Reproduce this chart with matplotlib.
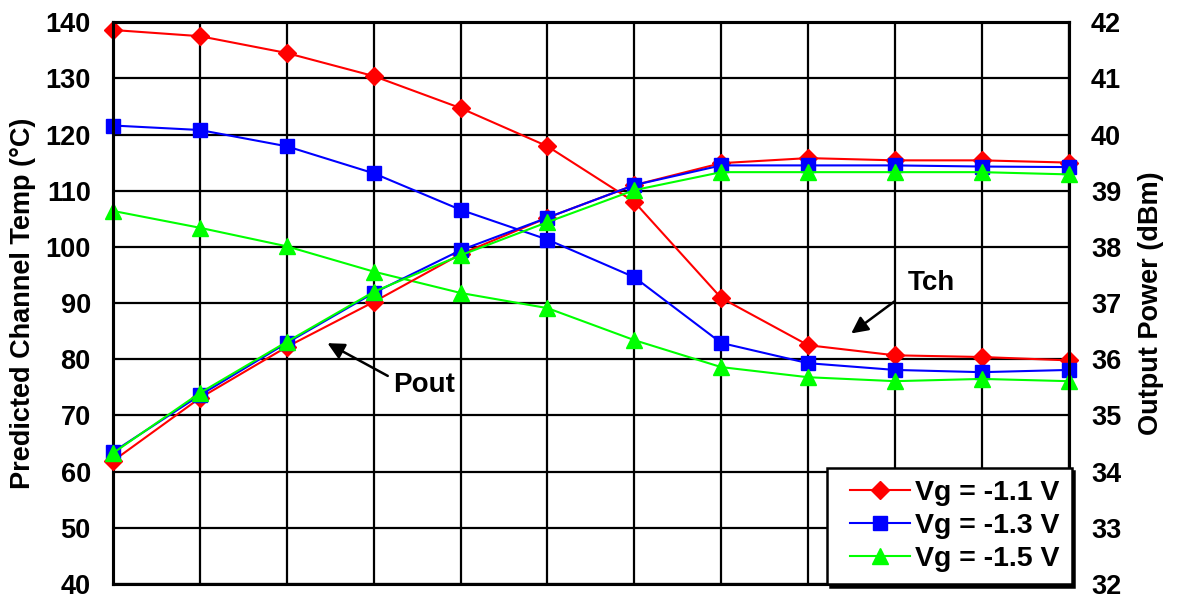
import matplotlib
matplotlib.use("Agg")
import matplotlib.pyplot as plt
from matplotlib.lines import Line2D
from matplotlib.legend_handler import HandlerLine2D

# data (12 operating points, no x labels)
x_idx = list(range(12))

tch_11 = [138.6, 137.5, 134.5, 130.4, 124.7, 117.9, 108.0, 90.9, 82.5, 80.7, 80.4, 79.8]
tch_13 = [121.6, 120.8, 117.9, 113.1, 106.6, 101.3, 94.6, 82.9, 79.3, 78.1, 77.7, 78.1]
tch_15 = [106.4, 103.4, 100.1, 95.6, 91.8, 89.1, 83.4, 78.6, 76.8, 76.1, 76.5, 76.1]

pout_11 = [34.19, 35.31, 36.22, 37.02, 37.87, 38.52, 39.10, 39.49, 39.58, 39.54, 39.54, 39.50]
pout_13 = [34.35, 35.36, 36.29, 37.18, 37.94, 38.52, 39.10, 39.45, 39.45, 39.45, 39.43, 39.42]
pout_15 = [34.33, 35.40, 36.31, 37.20, 37.85, 38.44, 39.01, 39.33, 39.33, 39.33, 39.33, 39.29]

labels = ['Vg = -1.1 V', 'Vg = -1.3 V', 'Vg = -1.5 V']
left_ticks = [40, 50, 60, 70, 80, 90, 100, 110, 120, 130, 140]
right_ticks = [32, 33, 34, 35, 36, 37, 38, 39, 40, 41, 42]

plt.rcParams['font.family'] = ['Liberation Sans', 'DejaVu Sans']
plt.rcParams['font.weight'] = 'bold'

fig, ax1 = plt.subplots(figsize=(11.81, 5.98), dpi=100)
fig.subplots_adjust(left=0.0957, right=0.905, top=0.963, bottom=0.0234)
ax2 = ax1.twinx()

styles = [('#FF0000', 'D', 9), ('#0000FF', 's', 10), ('#00FF00', '^', 11)]
handles = []
for (c, m, ms), t, p, lab in zip(styles, [tch_11, tch_13, tch_15],
                                 [pout_11, pout_13, pout_15], labels):
    h, = ax1.plot(x_idx, t, color=c, marker=m, markersize=ms, lw=1.5,
                  label=lab, clip_on=False, zorder=3)
    ax2.plot(x_idx, p, color=c, marker=m, markersize=ms, lw=1.5,
             clip_on=False, zorder=3)
    handles.append(h)

ax1.set_xlim(0, 11)
ax1.set_ylim(40, 140)
ax2.set_ylim(32, 42)
ax1.set_xticks(x_idx)
ax1.set_xticklabels([])
ax1.set_yticks(left_ticks)
ax2.set_yticks(right_ticks)
ax1.tick_params(axis='both', length=0, labelsize=19.5, pad=16)
ax2.tick_params(axis='both', length=0, labelsize=19.5, pad=16)
ax1.grid(True, color='black', lw=1.6)
ax1.set_axisbelow(True)

for a in (ax1, ax2):
    for s in a.spines.values():
        s.set_linewidth(2.2)
        s.set_color('black')

ax1.set_ylabel('Predicted Channel Temp (°C)', fontsize=19.5, fontweight='bold', labelpad=7)
ax2.set_ylabel('Output Power (dBm)', fontsize=19.5, fontweight='bold', labelpad=12)

# annotations
ax1.annotate('', xy=(8.47, 84.3), xytext=(9.02, 90.6),
             arrowprops=dict(arrowstyle='-|>', color='black', lw=1.8, mutation_scale=25))
ax1.text(9.15, 93.6, 'Tch', fontsize=20, fontweight='bold', ha='left', va='center')
ax1.annotate('', xy=(2.44, 83.1), xytext=(3.19, 76.8),
             arrowprops=dict(arrowstyle='-|>', color='black', lw=1.8, mutation_scale=25))
ax1.text(3.22, 75.4, 'Pout', fontsize=20, fontweight='bold', ha='left', va='center')

leg = ax2.legend(handles, labels, loc='lower right', bbox_to_anchor=(1.003, 0.0),
                 fontsize=20.5, frameon=True, fancybox=False, edgecolor='black',
                 framealpha=1, borderpad=0.42, labelspacing=0.25, handlelength=2.5,
                 handletextpad=0.18, borderaxespad=0,
                 handler_map={Line2D: HandlerLine2D(xpad=0.4)},
                 shadow={'color': 'black', 'alpha': 1})
leg.get_frame().set_linewidth(1.8)
leg.set_zorder(10)

fig.savefig('out.png', dpi=100)
